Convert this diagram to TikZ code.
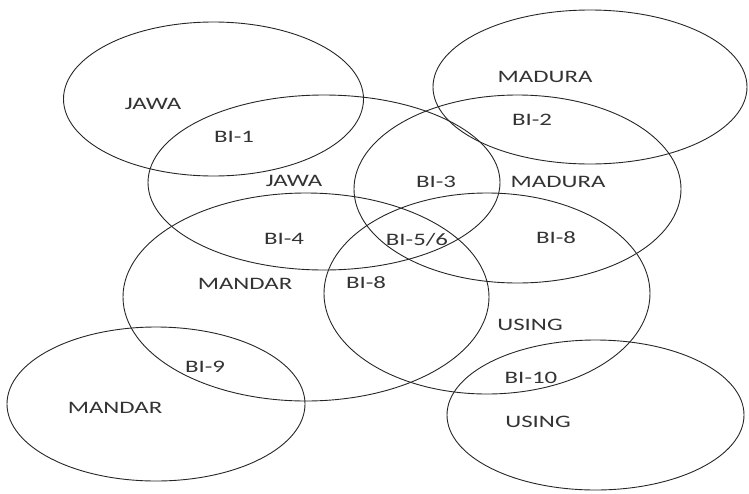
\documentclass[tikz,border=0pt]{standalone}
\usepackage{fontspec}
\setmainfont{Carlito}
\usetikzlibrary{shapes.geometric}

\begin{document}
\begin{tikzpicture}[x=1pt, y=-1pt,
                    set/.style={ellipse, draw=black!85, line width=0.9pt, inner sep=0pt},
                    lbl/.style={font=\fontsize{17.5}{18}\selectfont, text=black!80, xscale=1.42, inner sep=0pt}]
    \useasboundingbox (0,0) rectangle (749,493);

    % Language sets
    \node[set, minimum width=300, minimum height=154] (jawaA)   at (213.5, 99)  {};
    \node[set, minimum width=352, minimum height=175] (jawaB)   at (324, 182.5) {};
    \node[set, minimum width=314, minimum height=154] (maduraA) at (590, 87)    {};
    \node[set, minimum width=327, minimum height=188] (maduraB) at (517.5, 189) {};
    \node[set, minimum width=366, minimum height=208] (mandarA) at (306, 297)   {};
    \node[set, minimum width=326, minimum height=201] (usingA)  at (487, 293.5) {};
    \node[set, minimum width=298, minimum height=154] (mandarB) at (156, 404)   {};
    \node[set, minimum width=297, minimum height=150] (usingB)  at (595.5, 415) {};

    % Set names
    \node[lbl] (tJawaA)   at (153, 104) {JAWA};
    \node[lbl] (tJawaB)   at (294, 181) {JAWA};
    \node[lbl] (tMaduraA) at (545, 77)  {MADURA};
    \node[lbl] (tMaduraB) at (558, 182) {MADURA};
    \node[lbl] (tMandarA) at (245, 284) {MANDAR};
    \node[lbl] (tUsingA)  at (530, 325) {USING};
    \node[lbl] (tMandarB) at (115, 408) {MANDAR};
    \node[lbl] (tUsingB)  at (538, 422) {USING};

    % Overlaps
    \node[lbl] (bi1)  at (234, 137) {BI-1};
    \node[lbl] (bi2)  at (532, 120) {BI-2};
    \node[lbl] (bi3)  at (436, 182) {BI-3};
    \node[lbl] (bi4)  at (284, 239) {BI-4};
    \node[lbl] (bi56) at (417, 240) {BI-5/6};
    \node[lbl] (bi8a) at (556, 238) {BI-8};
    \node[lbl] (bi8b) at (366, 283) {BI-8};
    \node[lbl] (bi9)  at (205, 367) {BI-9};
    \node[lbl] (bi10) at (531, 378) {BI-10};
\end{tikzpicture}
\end{document}
